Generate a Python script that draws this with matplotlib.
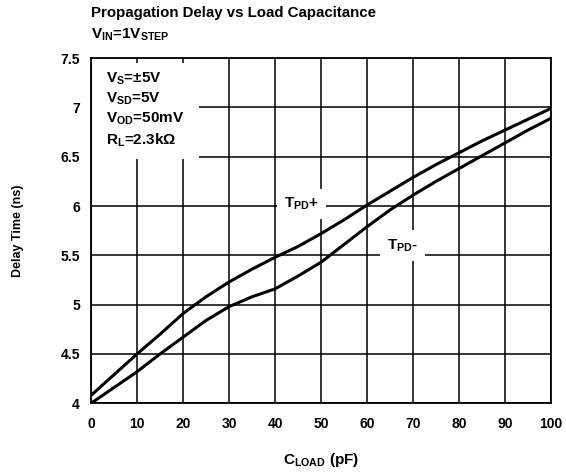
import matplotlib
matplotlib.use('Agg')
import matplotlib.pyplot as plt
from matplotlib.patches import Rectangle

plt.rcParams['font.family'] = 'Liberation Sans'
plt.rcParams['font.weight'] = 'bold'
plt.rcParams['axes.labelweight'] = 'bold'
plt.rcParams['mathtext.fontset'] = 'custom'
plt.rcParams['mathtext.rm'] = 'Liberation Sans:bold'
plt.rcParams['mathtext.bf'] = 'Liberation Sans:bold'
plt.rcParams['mathtext.default'] = 'bf'

# --- data ---
c_load = [0, 5, 10, 15, 20, 25, 30, 35, 40, 45, 50, 55, 60, 65, 70, 75, 80, 85, 90, 95, 100]
tpd_plus = [4.08, 4.29, 4.50, 4.70, 4.91, 5.08, 5.23, 5.36, 5.48, 5.59, 5.72,
            5.86, 6.01, 6.15, 6.29, 6.42, 6.54, 6.66, 6.77, 6.88, 6.99]
tpd_minus = [4.00, 4.16, 4.32, 4.50, 4.67, 4.84, 4.98, 5.08, 5.16, 5.29, 5.43,
             5.61, 5.79, 5.96, 6.11, 6.25, 6.38, 6.51, 6.64, 6.77, 6.89]
x_ticks = [0, 10, 20, 30, 40, 50, 60, 70, 80, 90, 100]
y_ticks = [4, 4.5, 5, 5.5, 6, 6.5, 7, 7.5]
y_labels = ['4', '4.5', '5', '5.5', '6', '6.5', '7', '7.5']

fig = plt.figure(figsize=(5.66, 4.76), dpi=100)
ax = fig.add_axes([0.1608, 0.1527, 0.8127, 0.7253])

ax.plot(c_load, tpd_plus, color='black', linewidth=2.2, zorder=3)
ax.plot(c_load, tpd_minus, color='black', linewidth=2.2, zorder=3)

ax.set_xlim(0, 100)
ax.set_ylim(4, 7.5)
ax.set_xticks(x_ticks)
ax.set_yticks(y_ticks)
ax.set_yticklabels(y_labels)
ax.tick_params(length=0, labelsize=10, pad=10)
ax.tick_params(axis='y', pad=8)
ax.grid(True, color='black', linewidth=1.1)
ax.set_axisbelow(True)
for s in ax.spines.values():
    s.set_linewidth(1.3)

# conditions box (white patch hides the grid)
ax.add_patch(Rectangle((0.003, 0.7075), 0.232, 0.278, transform=ax.transAxes,
                       facecolor='white', edgecolor='none', zorder=2))
ax.text(3.3, 7.37, '$V_{S}$=±5V\n$V_{SD}$=5V\n$V_{OD}$=50mV\n$R_{L}$=2.3k\u03a9',
        fontsize=11, va='top', ha='left', linespacing=1.3, zorder=4)

ax.text(45.8, 6.02, '$T_{PD}$+', fontsize=11, ha='center', va='center', zorder=4,
        bbox=dict(facecolor='white', edgecolor='none', pad=5))
ax.text(67.8, 5.60, '$T_{PD}$-', fontsize=11, ha='center', va='center', zorder=4,
        bbox=dict(facecolor='white', edgecolor='none', pad=5))

ax.set_xlabel('$C_{LOAD}$ (pF)', fontsize=11, labelpad=14)
ax.set_ylabel('Delay Time (ns)', fontsize=9, labelpad=26)

fig.text(0.1608, 0.972, 'Propagation Delay vs Load Capacitance', fontsize=10.8, va='center')
fig.text(0.1608, 0.926, '$V_{IN}$=1$V_{STEP}$', fontsize=11, va='center')

fig.savefig('out.png', dpi=100)
